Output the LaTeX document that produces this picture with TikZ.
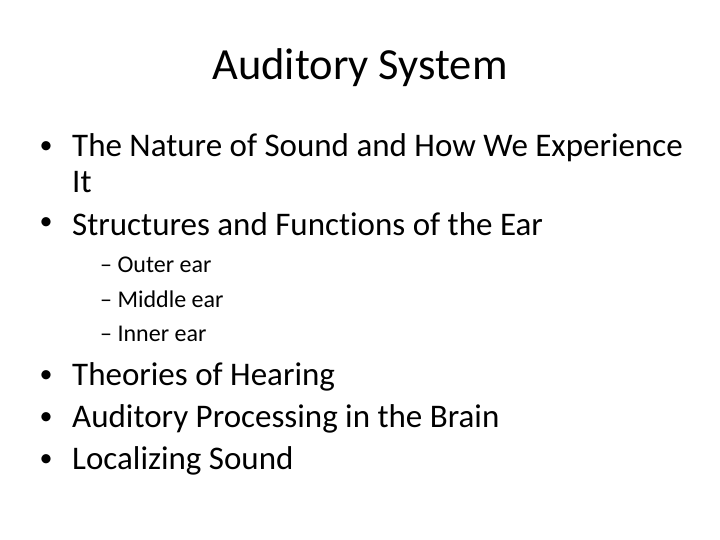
\documentclass[tikz,border=0pt]{standalone}
\usepackage{fontspec}
\setmainfont{Carlito}[Ligatures=NoCommon]
\begin{document}
\begin{tikzpicture}[x=1pt,y=-1pt,
  lvl/.style={anchor=west,inner sep=0pt,font=\fontsize{33}{40}\selectfont},
  dot/.style={anchor=center,inner sep=0pt,font=\fontsize{26}{30}\selectfont},
  sub/.style={anchor=west,inner sep=0pt,font=\fontsize{24}{28}\selectfont}]
\useasboundingbox (0,0) rectangle (720,540);
\node[inner sep=0pt,font=\fontsize{44.5}{50}\selectfont] (title) at (360,68) {Auditory System};
\foreach \n/\y/\t in {b1/148/The Nature of Sound and How We Experience, b2/224/Structures and Functions of the Ear, b3/377/Theories of Hearing, b4/419/Auditory Processing in the Brain, b5/461/Localizing Sound}{
  \node[dot] (\n d) at (46,\y) {•};
  \node[lvl] (\n) at (72,\y) {\t};
}
\node[lvl] (b1b) at (72,182) {It};
\foreach \n/\y/\t in {s1/265/Outer ear, s2/299/Middle ear, s3/334/Inner ear}{
  \node[sub] (\n) at (100,\y) {– \t};
}
\end{tikzpicture}
\end{document}
